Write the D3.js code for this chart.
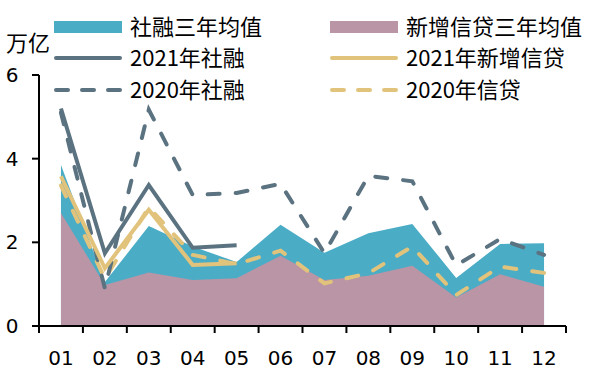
<!DOCTYPE html>
<html>
<head>
<meta charset="utf-8">
<script src="https://cdn.jsdelivr.net/npm/d3@7"></script>
<style>
  body { margin: 0; background: #fff; }
  text { font-family: "Noto Sans CJK SC", "DejaVu Sans", sans-serif; fill: #000; }
</style>
</head>
<body>
<script>
// months on the x axis
var months = ["01","02","03","04","05","06","07","08","09","10","11","12"];
var yTicks = [0, 2, 4, 6];

// three year averages (areas)
var sheRongAvg = [3.85, 1.05, 2.39, 1.90, 1.53, 2.42, 1.75, 2.22, 2.44, 1.15, 1.96, 1.98];
var xinDaiAvg  = [2.70, 0.98, 1.28, 1.10, 1.14, 1.68, 1.10, 1.20, 1.44, 0.68, 1.24, 0.94];

// 2021 (jan - may) and 2020 lines
var sheRong2021 = [5.20, 1.74, 3.37, 1.87, 1.93];
var xinDai2021  = [3.58, 1.38, 2.78, 1.46, 1.50];
var sheRong2020 = [5.10, 0.90, 5.17, 3.13, 3.18, 3.40, 1.74, 3.59, 3.46, 1.45, 2.08, 1.70];
var xinDai2020  = [3.36, 1.13, 2.84, 1.70, 1.48, 1.80, 1.02, 1.26, 1.90, 0.74, 1.42, 1.27];

var W = 589, H = 375;
var teal = "#4bacc6", mauve = "#b995a6", dark = "#5b7380", gold = "#e2c37c";
var dash = "12,16";

var svg = d3.select("body").append("svg")
  .attr("width", W).attr("height", H);

var x = d3.scaleBand().domain(months).range([39, 566]);
var y = d3.scaleLinear().domain([0, 6]).range([326, 75]);
var cx = function(i) { return x(months[i]) + x.bandwidth() / 2; };

// areas
var area = d3.area()
  .x(function(d, i) { return cx(i); })
  .y0(y(0))
  .y1(function(d) { return y(d); });

svg.append("path").datum(sheRongAvg)
  .attr("d", area).attr("fill", teal);
svg.append("path").datum(xinDaiAvg)
  .attr("d", area).attr("fill", mauve);

// lines
var line = d3.line()
  .x(function(d, i) { return cx(i); })
  .y(function(d) { return y(d); });

var series = [
  {data: xinDai2020, color: gold, dashed: true},
  {data: sheRong2020, color: dark, dashed: true},
  {data: xinDai2021, color: gold, dashed: false},
  {data: sheRong2021, color: dark, dashed: false}
];

series.forEach(function(s) {
  svg.append("path").datum(s.data)
    .attr("d", line)
    .attr("fill", "none")
    .attr("stroke", s.color)
    .attr("stroke-width", 4)
    .attr("stroke-linecap", s.dashed ? "round" : "butt")
    .attr("stroke-dasharray", s.dashed ? dash : null);
});

// axes
svg.append("line")
  .attr("x1", 39).attr("x2", 566).attr("y1", y(0)).attr("y2", y(0))
  .attr("stroke", "#000").attr("stroke-width", 2);
svg.selectAll(".xtick").data(d3.range(13)).enter().append("line")
  .attr("x1", function(d) { return 39 + d * x.bandwidth(); })
  .attr("x2", function(d) { return 39 + d * x.bandwidth(); })
  .attr("y1", y(0)).attr("y2", y(0) + 7)
  .attr("stroke", "#000").attr("stroke-width", 2);

svg.selectAll(".xlab").data(months).enter().append("text")
  .attr("x", function(d, i) { return cx(i); })
  .attr("y", 365)
  .attr("text-anchor", "middle")
  .style("font-family", "'DejaVu Sans', sans-serif")
  .style("font-size", "20px")
  .text(function(d) { return d; });

svg.append("line")
  .attr("x1", 39).attr("x2", 39).attr("y1", y(6)).attr("y2", y(0))
  .attr("stroke", "#000").attr("stroke-width", 2);
svg.selectAll(".ytick").data(yTicks).enter().append("line")
  .attr("x1", 32).attr("x2", 39)
  .attr("y1", function(d) { return y(d); })
  .attr("y2", function(d) { return y(d); })
  .attr("stroke", "#000").attr("stroke-width", 2);
svg.selectAll(".ylab").data(yTicks).enter().append("text")
  .attr("x", 12)
  .attr("y", function(d) { return y(d) + 7; })
  .attr("text-anchor", "middle")
  .style("font-family", "'DejaVu Sans', sans-serif")
  .style("font-size", "20px")
  .text(function(d) { return d; });

svg.append("text")
  .attr("x", 6).attr("y", 51)
  .style("font-size", "22px")
  .text("万亿");

// legend
var legend = [
  {label: "社融三年均值", type: "rect", color: teal, lx: 54, ly: 27},
  {label: "新增信贷三年均值", type: "rect", color: mauve, lx: 330, ly: 27},
  {label: "2021年社融", type: "line", color: dark, lx: 54, ly: 58},
  {label: "2021年新增信贷", type: "line", color: gold, lx: 330, ly: 58},
  {label: "2020年社融", type: "dash", color: dark, lx: 54, ly: 90},
  {label: "2020年信贷", type: "dash", color: gold, lx: 330, ly: 90}
];

legend.forEach(function(l) {
  if (l.type == "rect") {
    svg.append("rect")
      .attr("x", l.lx).attr("y", l.ly - 6)
      .attr("width", 68).attr("height", 12)
      .attr("fill", l.color);
  } else {
    svg.append("line")
      .attr("x1", l.lx + 2).attr("x2", l.lx + 66)
      .attr("y1", l.ly).attr("y2", l.ly)
      .attr("stroke", l.color).attr("stroke-width", 4)
      .attr("stroke-linecap", "round")
      .attr("stroke-dasharray", l.type == "dash" ? "12,14" : null);
  }
  svg.append("text")
    .attr("x", l.lx + 76).attr("y", l.ly + 8)
    .style("font-size", "22px")
    .text(l.label);
});
</script>
</body>
</html>
